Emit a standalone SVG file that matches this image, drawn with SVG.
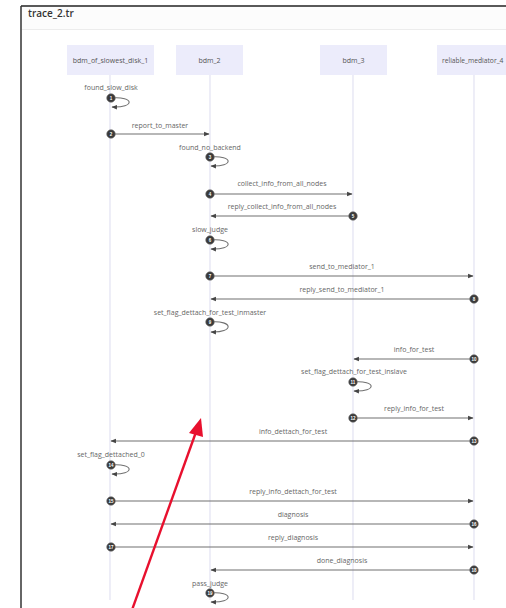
<svg xmlns="http://www.w3.org/2000/svg" width="506" height="608" viewBox="0 0 506 608">
  <style>
    .title { font-family: "Open Sans", "Liberation Sans", sans-serif; font-size: 10px; fill: #333; font-weight: 600; }
    .actor rect { fill: #ececfb; stroke: none; }
    .actor text { font-family: "Open Sans", "Liberation Sans", sans-serif; font-size: 7px; fill: #555; text-anchor: middle; }
    .lifeline { stroke: #e2e2f2; stroke-width: 1.2; }
    .msg { stroke: #707070; stroke-width: 1.1; fill: none; }
    .label { font-family: "Open Sans", "Liberation Sans", sans-serif; font-size: 7px; fill: #666; text-anchor: middle; }
    .seq circle { fill: #3a3a3a; stroke: #777; stroke-width: 0.6; }
    .seq text { font-family: "Liberation Sans", sans-serif; font-size: 4.5px; fill: #fff; text-anchor: middle; font-weight: bold; }
  </style>
  <defs>
    <marker id="head" viewBox="0 0 10 10" refX="9" refY="5" markerWidth="5" markerHeight="5" orient="auto">
      <path d="M0,1 L10,5 L0,9 Z" fill="#444"/>
    </marker>
  </defs>

  <!-- frame and header -->
  <rect x="0" y="0" width="506" height="608" fill="#fff"/>
  <rect x="22" y="7" width="484" height="22" fill="#fcfcfc"/>
  <line x1="21" y1="6" x2="506" y2="6" stroke="#222" stroke-width="1.5"/>
  <line x1="21" y1="6" x2="21" y2="608" stroke="#333" stroke-width="1.5"/>
  <line x1="22" y1="29.5" x2="506" y2="29.5" stroke="#ececec" stroke-width="1"/>
  <text class="title" x="28" y="17">trace_2.tr</text>

  <!-- lifelines -->
  <g id="lifelines">
    <line class="lifeline" x1="110" y1="75" x2="110" y2="600"/>
    <line class="lifeline" x1="210" y1="75" x2="210" y2="600"/>
    <line class="lifeline" x1="353" y1="75" x2="353" y2="600"/>
    <line class="lifeline" x1="474" y1="75" x2="474" y2="600"/>
  </g>

  <!-- participants -->
  <g id="bdm_of_slowest_disk_1" class="actor">
    <rect x="67" y="45" width="87" height="30"/>
    <text x="110.5" y="62.5">bdm_of_slowest_disk_1</text>
  </g>
  <g id="bdm_2" class="actor">
    <rect x="176" y="45" width="67" height="30"/>
    <text x="209.5" y="62.5">bdm_2</text>
  </g>
  <g id="bdm_3" class="actor">
    <rect x="320" y="45" width="67" height="30"/>
    <text x="353.5" y="62.5">bdm_3</text>
  </g>
  <g id="reliable_mediator_4" class="actor">
    <rect x="437" y="45" width="80" height="30"/>
    <text x="442" y="62.5" style="text-anchor:start;font-size:6.7px">reliable_mediator_4</text>
  </g>

  <!-- messages -->
  <g id="connectors">
    <!-- 1 self -->
    <text class="label" x="111" y="90">found_slow_disk</text>
    <path class="msg" d="M111,98 C135,96 135,108 112,107" marker-end="url(#head)"/>
    <!-- 2 -->
    <text class="label" x="160" y="128">report_to_master</text>
    <line class="msg" x1="111" y1="134" x2="209" y2="134" marker-end="url(#head)"/>
    <!-- 3 self -->
    <text class="label" x="210" y="150">found_no_backend</text>
    <path class="msg" d="M210,157 C234,155 234,167 211,166" marker-end="url(#head)"/>
    <!-- 4 -->
    <text class="label" x="282" y="186">collect_info_from_all_nodes</text>
    <line class="msg" x1="210" y1="194" x2="352" y2="194" marker-end="url(#head)"/>
    <!-- 5 -->
    <text class="label" x="282" y="209">reply_collect_info_from_all_nodes</text>
    <line class="msg" x1="353" y1="216" x2="211" y2="216" marker-end="url(#head)"/>
    <!-- 6 self -->
    <text class="label" x="210" y="232">slow_judge</text>
    <path class="msg" d="M210,240 C234,238 234,250 211,249" marker-end="url(#head)"/>
    <!-- 7 -->
    <text class="label" x="342" y="269">send_to_mediator_1</text>
    <line class="msg" x1="210" y1="276" x2="473" y2="276" marker-end="url(#head)"/>
    <!-- 8 -->
    <text class="label" x="342" y="292">reply_send_to_mediator_1</text>
    <line class="msg" x1="474" y1="299" x2="211" y2="299" marker-end="url(#head)"/>
    <!-- 9 self -->
    <text class="label" x="210" y="315">set_flag_dettach_for_test_inmaster</text>
    <path class="msg" d="M210,322 C234,320 234,333 211,332" marker-end="url(#head)"/>
    <!-- 10 -->
    <text class="label" x="414" y="352">info_for_test</text>
    <line class="msg" x1="474" y1="359" x2="354" y2="359" marker-end="url(#head)"/>
    <!-- 11 self -->
    <text class="label" x="354" y="374">set_flag_dettach_for_test_inslave</text>
    <path class="msg" d="M353,382 C377,380 377,392 354,391" marker-end="url(#head)"/>
    <!-- 12 -->
    <text class="label" x="414" y="411">reply_info_for_test</text>
    <line class="msg" x1="353" y1="418" x2="473" y2="418" marker-end="url(#head)"/>
    <!-- 13 -->
    <text class="label" x="293" y="434">info_dettach_for_test</text>
    <line class="msg" x1="474" y1="441" x2="111" y2="441" marker-end="url(#head)"/>
    <!-- 14 self -->
    <text class="label" x="111" y="457">set_flag_dettached_0</text>
    <path class="msg" d="M111,465 C135,463 135,475 112,474" marker-end="url(#head)"/>
    <!-- 15 -->
    <text class="label" x="293" y="494">reply_info_dettach_for_test</text>
    <line class="msg" x1="111" y1="501" x2="473" y2="501" marker-end="url(#head)"/>
    <!-- 16 -->
    <text class="label" x="293" y="517">diagnosis</text>
    <line class="msg" x1="474" y1="524" x2="111" y2="524" marker-end="url(#head)"/>
    <!-- 17 -->
    <text class="label" x="293" y="540">reply_diagnosis</text>
    <line class="msg" x1="111" y1="547" x2="473" y2="547" marker-end="url(#head)"/>
    <!-- 18 -->
    <text class="label" x="342" y="563">done_diagnosis</text>
    <line class="msg" x1="474" y1="570" x2="211" y2="570" marker-end="url(#head)"/>
    <!-- 19 self -->
    <text class="label" x="210" y="586">pass_judge</text>
    <path class="msg" d="M210,593 C234,591 234,603 211,602" marker-end="url(#head)"/>
  </g>

  <!-- sequence numbers -->
  <g id="sequence-numbers" class="seq">
    <circle cx="111" cy="98" r="4.3"/><text x="111" y="99.6">1</text>
    <circle cx="111" cy="134" r="4.3"/><text x="111" y="135.6">2</text>
    <circle cx="210" cy="157" r="4.3"/><text x="210" y="158.6">3</text>
    <circle cx="210" cy="194" r="4.3"/><text x="210" y="195.6">4</text>
    <circle cx="353" cy="216" r="4.3"/><text x="353" y="217.6">5</text>
    <circle cx="210" cy="240" r="4.3"/><text x="210" y="241.6">6</text>
    <circle cx="210" cy="276" r="4.3"/><text x="210" y="277.6">7</text>
    <circle cx="474" cy="299" r="4.3"/><text x="474" y="300.6">8</text>
    <circle cx="210" cy="322" r="4.3"/><text x="210" y="323.6">9</text>
    <circle cx="474" cy="359" r="4.3"/><text x="474" y="360.6">10</text>
    <circle cx="353" cy="382" r="4.3"/><text x="353" y="383.6">11</text>
    <circle cx="353" cy="418" r="4.3"/><text x="353" y="419.6">12</text>
    <circle cx="474" cy="441" r="4.3"/><text x="474" y="442.6">13</text>
    <circle cx="111" cy="465" r="4.3"/><text x="111" y="466.6">14</text>
    <circle cx="111" cy="501" r="4.3"/><text x="111" y="502.6">15</text>
    <circle cx="474" cy="524" r="4.3"/><text x="474" y="525.6">16</text>
    <circle cx="111" cy="547" r="4.3"/><text x="111" y="548.6">17</text>
    <circle cx="474" cy="570" r="4.3"/><text x="474" y="571.6">18</text>
    <circle cx="210" cy="593" r="4.3"/><text x="210" y="594.6">19</text>
  </g>

  <!-- red pointer -->
  <g id="pointer">
    <line x1="132" y1="610" x2="196" y2="432" stroke="#e8102e" stroke-width="2.4"/>
    <path d="M201,418 L189,433 L203,437 Z" fill="#e8102e"/>
  </g>
</svg>
